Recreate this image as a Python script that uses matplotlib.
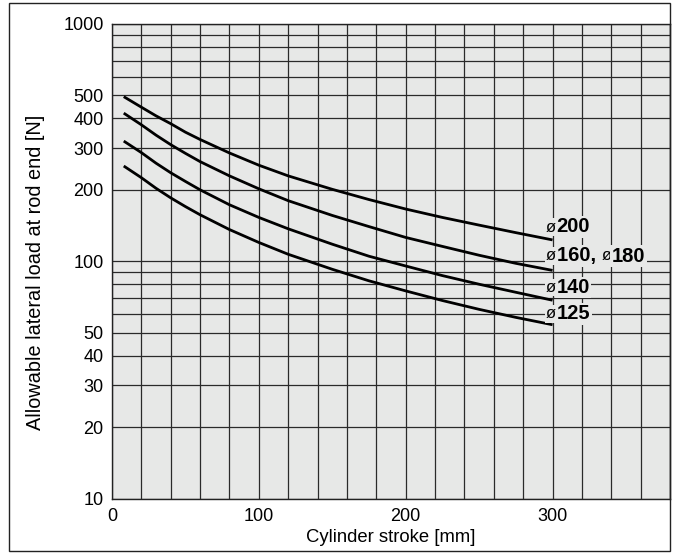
import matplotlib
matplotlib.use("Agg")
import matplotlib.pyplot as plt
from matplotlib.patches import Rectangle
from matplotlib.ticker import FixedLocator, NullFormatter, FixedFormatter, MultipleLocator

plt.rcParams['font.family'] = ['Liberation Sans', 'DejaVu Sans']

# ---- data ----
stroke = [8, 20, 30, 40, 50, 60, 80, 100, 120, 150, 175, 200, 225, 250, 275, 300]
load_200 = [494, 446, 410, 380, 350, 326, 286, 254, 229, 201, 182, 166, 153, 142, 132, 123]
load_160 = [421, 376, 340, 310, 285, 263, 229, 202, 180, 156, 140, 126, 115.5, 106, 98, 91.5]
load_140 = [321, 287, 259, 236, 217, 200, 173, 153, 137, 118, 105, 95.5, 87, 80, 74, 68.5]
load_125 = [252, 225, 203, 185, 170, 157, 136, 120, 107, 92.5, 82.7, 75, 68.3, 62.7, 58, 54]
series = [load_200, load_160, load_140, load_125]
series_labels = [["200"], ["160, ", "180"], ["140"], ["125"]]

yticks = [10, 20, 30, 40, 50, 100, 200, 300, 400, 500, 1000]
xticks = [0, 100, 200, 300]
xlabel = "Cylinder stroke [mm]"
ylabel = "Allowable lateral load at rod end [N]"

bg = '#e7e8e7'
gridc = '#2a2a2a'

fig = plt.figure(figsize=(6.76, 5.54), dpi=100)
ax = fig.add_axes([112/676, 1-498.5/554, (670-112)/676, (498.5-24)/554])
ax.set_facecolor(bg)
ax.set_yscale('log')
ax.set_xlim(0, 380)
ax.set_ylim(10, 1000)

# grid
ax.xaxis.set_major_locator(FixedLocator(xticks))
ax.xaxis.set_minor_locator(MultipleLocator(20))
ax.yaxis.set_major_locator(FixedLocator(yticks))
minor_y = [v * m for v in (10, 100) for m in range(2, 10)]
ax.yaxis.set_minor_locator(FixedLocator(minor_y))
ax.yaxis.set_minor_formatter(NullFormatter())
ax.yaxis.set_major_formatter(FixedFormatter([str(v) for v in yticks]))
ax.xaxis.set_major_formatter(FixedFormatter([str(v) for v in xticks]))
ax.grid(True, which='both', color=gridc, linewidth=0.9)
ax.set_axisbelow(True)
ax.tick_params(which='both', length=0)
ax.tick_params(axis='y', labelsize=13, pad=6)
ax.tick_params(axis='x', labelsize=13, pad=7)
for s in ax.spines.values():
    s.set_color('#222222')
    s.set_linewidth(1.0)

for ys in series:
    ax.plot(stroke, ys, color='black', linewidth=2.0, solid_capstyle='butt', zorder=3)

ax.set_xlabel(xlabel, fontsize=13.3, labelpad=3)
fig.text(36/676, 1 - 272/554, ylabel, fontsize=14.3, rotation=90, ha='center', va='center')

# curve labels: small phi + bold number, chained
label_y = [227, 256, 287.5, 313.7]
box = dict(facecolor=bg, edgecolor='none', pad=1.0)
for pieces, ly in zip(series_labels, label_y):
    prev = fig.text(546/676, 1 - ly/554, 'ø', fontsize=12, va='center', ha='left',
                    bbox=box, zorder=5)
    for i, p in enumerate(pieces):
        prev = ax.annotate(p, xy=(1, 0.5), xycoords=prev, va='center', ha='left',
                           fontsize=14.5, fontweight='bold', xytext=(0.3, 0),
                           textcoords='offset points', bbox=box, zorder=5,
                           annotation_clip=False)
        if i < len(pieces) - 1:
            prev = ax.annotate('ø', xy=(1, 0.5), xycoords=prev, va='center', ha='left',
                               fontsize=12, xytext=(0, 0), textcoords='offset points',
                               bbox=box, zorder=5, annotation_clip=False)

# outer frame
fig.patches.append(Rectangle((9/676, 3/554), (670-9)/676, (551-3)/554, transform=fig.transFigure,
                             fill=False, edgecolor='#222222', linewidth=1.0))

fig.savefig('out.png', dpi=100)
